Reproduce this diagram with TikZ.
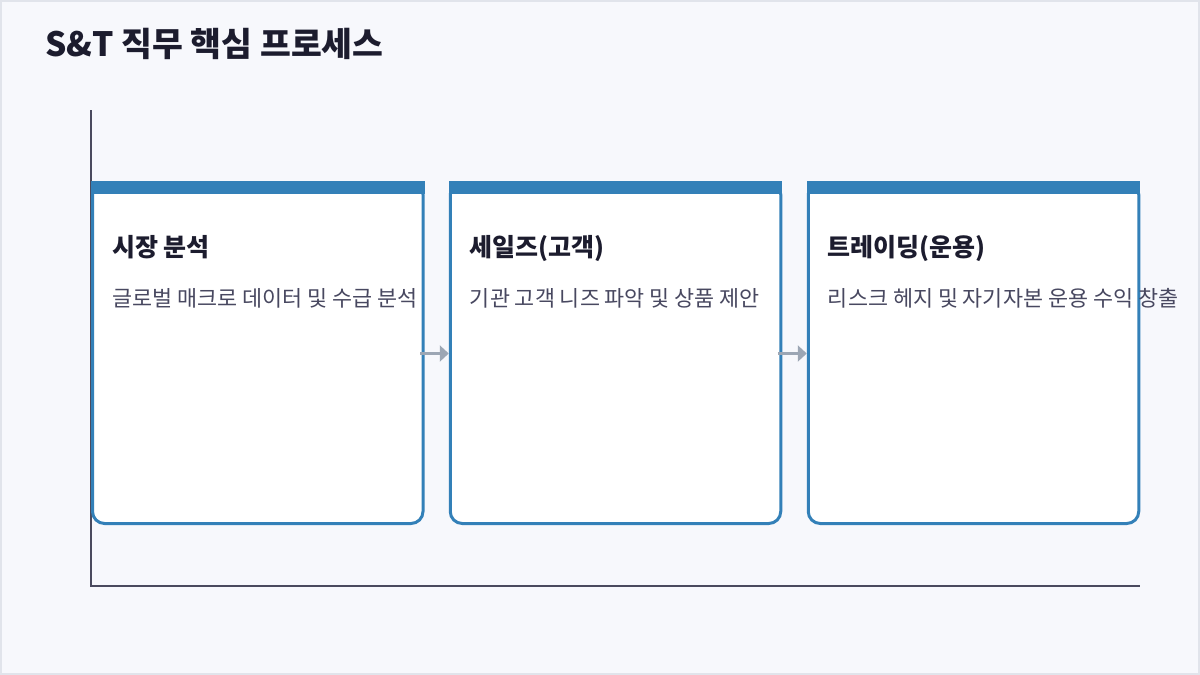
\documentclass[tikz,border=0pt]{standalone}
\usepackage{fontspec}
\setmainfont{Noto Sans CJK KR}
\usetikzlibrary{arrows.meta}
\definecolor{bgc}{HTML}{F7F8FC}
\definecolor{framec}{HTML}{E1E4EB}
\definecolor{titlec}{HTML}{1C1C2E}
\definecolor{descc}{HTML}{484860}
\definecolor{boxc}{HTML}{3380B8}
\definecolor{axisc}{HTML}{4A4A5E}
\definecolor{arrc}{HTML}{9CA6B4}
\tikzset{
  procbox/.style={draw=boxc, line width=3pt, fill=white, rounded corners=12pt,
    minimum width=330.5pt, minimum height=341pt, inner sep=0pt, outer sep=0pt},
  boxtitle/.style={anchor=base west, inner sep=0pt, text=titlec,
    font=\fontsize{25}{30}\selectfont\bfseries},
  boxdesc/.style={anchor=base west, inner sep=0pt, text=descc,
    font=\fontsize{21.8}{26}\selectfont},
  flow/.style={draw=arrc, line width=3pt, -{Triangle[length=9pt,width=16pt]}},
  axisline/.style={draw=axisc, line width=1.6pt}
}
\begin{document}
\begin{tikzpicture}[x=1pt,y=-1pt]
\useasboundingbox (0,0) rectangle (1200,675);
\fill[bgc] (0,0) rectangle (1200,675);
\draw[framec, line width=2pt] (1,1) rectangle (1199,674);
\node[anchor=base west, inner sep=0pt, text=titlec, font=\fontsize{33.5}{40}\selectfont\bfseries] (title) at (45,56.5) {S\&T 직무 핵심 프로세스};
% axes
\coordinate (ytop) at (91,110);
\coordinate (orig) at (91,586);
\coordinate (xend) at (1140,586);
\draw[axisline] (ytop) -- (orig) -- (xend);
% boxes
\node[procbox] (b1) at (257.75,353) {};
\node[procbox] (b2) at (615.5,353) {};
\node[procbox] (b3) at (973.5,353) {};
\foreach \b in {b1,b2,b3}{
  \fill[boxc] ([xshift=-1.5pt,yshift=1.5pt]\b.north west) rectangle ([xshift=1.5pt,yshift=-11.5pt]\b.north east);
}
% texts
\node[boxtitle] (t1) at ([xshift=19.5pt,yshift=-73.5pt]b1.north west) {시장 분석};
\node[boxdesc] (d1) at ([xshift=19.5pt,yshift=-124pt]b1.north west) {글로벌 매크로 데이터 및 수급 분석};
\node[boxtitle] (t2) at ([xshift=19.5pt,yshift=-73.5pt]b2.north west) {세일즈(고객)};
\node[boxdesc] (d2) at ([xshift=19.5pt,yshift=-124pt]b2.north west) {기관 고객 니즈 파악 및 상품 제안};
\node[boxtitle] (t3) at ([xshift=19.5pt,yshift=-73.5pt]b3.north west) {트레이딩(운용)};
\node[boxdesc] (d3) at ([xshift=19.5pt,yshift=-124pt]b3.north west) {리스크 헤지 및 자기자본 운용 수익 창출};
% arrows
\draw[flow] ([xshift=-3pt,yshift=-0.5pt]b1.east) -- ([xshift=-1.5pt,yshift=-0.5pt]b2.west);
\draw[flow] ([xshift=-3pt,yshift=-0.5pt]b2.east) -- ([xshift=-1.5pt,yshift=-0.5pt]b3.west);
\end{tikzpicture}
\end{document}
